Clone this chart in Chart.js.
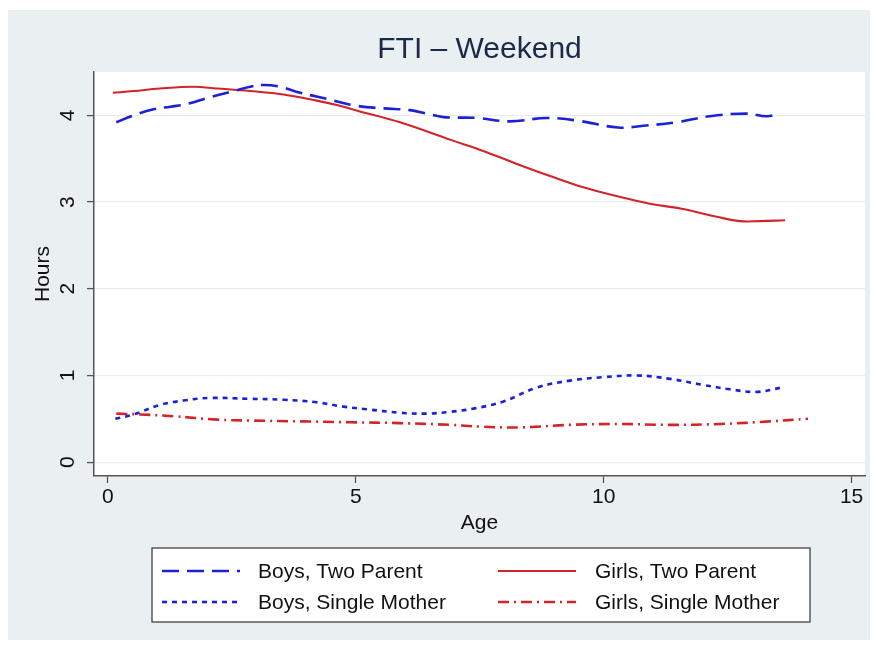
<!DOCTYPE html>
<html>
<head>
<meta charset="utf-8">
<script src="https://cdn.jsdelivr.net/npm/chart.js@4"></script>
<style>
  html, body { margin: 0; padding: 0; background: #ffffff; }
  #wrap { width: 878px; height: 646px; }
</style>
</head>
<body>
<div id="wrap"><canvas id="c" width="878" height="646"></canvas></div>
<script>
// ---- Data ----
const titleText = "FTI \u2013 Weekend";
const xTitle = "Age";
const yTitle = "Hours";
const xTickValues = [0, 5, 10, 15];
const yTickValues = [0, 1, 2, 3, 4];

const seriesLabels = ["Boys, Two Parent", "Girls, Two Parent", "Boys, Single Mother", "Girls, Single Mother"];

const boysTwoAge   = [0.17,0.52,0.92,1.26,1.59,2.06,2.53,2.87,3.14,3.47,3.88,4.42,5.02,5.56,6.09,6.43,6.77,7.44,8.11,8.85,9.46,10.29,10.80,11.47,12.14,12.88,13.29,13.55];
const boysTwoHours = [3.92,4.00,4.07,4.10,4.13,4.21,4.28,4.33,4.35,4.33,4.26,4.19,4.11,4.08,4.06,4.02,3.98,3.97,3.93,3.97,3.94,3.86,3.88,3.92,3.99,4.02,3.99,4.02];

const girlsTwoAge   = [0.10,0.52,1.05,1.73,2.20,2.87,3.54,4.21,4.68,5.05,5.89,6.90,7.57,8.25,8.92,9.59,10.26,10.93,11.60,12.28,12.75,13.15,13.66];
const girlsTwoHours = [4.26,4.28,4.31,4.33,4.31,4.28,4.24,4.17,4.11,4.05,3.92,3.72,3.59,3.44,3.30,3.17,3.07,2.98,2.92,2.83,2.78,2.78,2.79];

const boysSingleAge   = [0.15,0.52,1.05,1.52,2.06,2.87,3.54,4.21,4.75,5.22,5.89,6.43,6.90,7.40,7.98,8.65,9.32,9.99,10.67,11.34,12.01,12.55,13.08,13.59];
const boysSingleHours = [0.50,0.55,0.66,0.71,0.74,0.73,0.72,0.69,0.64,0.61,0.57,0.56,0.58,0.62,0.70,0.86,0.94,0.98,1.00,0.96,0.89,0.84,0.81,0.86];

const girlsSingleAge   = [0.17,0.65,1.32,2.20,2.87,3.88,4.89,5.89,6.90,7.51,8.31,9.32,10.30,11.34,12.35,13.35,14.12];
const girlsSingleHours = [0.56,0.55,0.53,0.49,0.48,0.47,0.46,0.45,0.43,0.41,0.40,0.43,0.44,0.43,0.44,0.47,0.50];

// ---- Styles ----
const BLUE = "#1c20d6";
const RED = "#d3242a";
const FONT = "'Liberation Sans', Arial, Helvetica, sans-serif";

function pts(xs, ys) { return xs.map((x, i) => ({ x: x, y: ys[i] })); }

const datasets = [
  { label: seriesLabels[0], data: pts(boysTwoAge, boysTwoHours), borderColor: BLUE, borderWidth: 2.6, borderDash: [17, 8] },
  { label: seriesLabels[1], data: pts(girlsTwoAge, girlsTwoHours), borderColor: RED, borderWidth: 2.1, borderDash: [] },
  { label: seriesLabels[2], data: pts(boysSingleAge, boysSingleHours), borderColor: BLUE, borderWidth: 2.6, borderDash: [5, 5] },
  { label: seriesLabels[3], data: pts(girlsSingleAge, girlsSingleHours), borderColor: RED, borderWidth: 2.6, borderDash: [11, 5, 2, 5] }
].map(d => Object.assign(d, { fill: false, pointRadius: 0, pointHoverRadius: 0, tension: 0.4, backgroundColor: d.borderColor }));

const backgroundPlugin = {
  id: 'stataBg',
  beforeDraw(chart) {
    const { ctx, chartArea } = chart;
    ctx.save();
    ctx.fillStyle = '#ffffff';
    ctx.fillRect(0, 0, chart.width, chart.height);
    ctx.fillStyle = '#eaf0f2';
    ctx.fillRect(8, 10, 862, 630);
    ctx.fillStyle = '#ffffff';
    ctx.fillRect(chartArea.left, chartArea.top, chartArea.right - chartArea.left, chartArea.bottom - chartArea.top);
    ctx.restore();
  }
};

const legendPlugin = {
  id: 'stataLegend',
  afterDraw(chart) {
    const { ctx } = chart;
    const box = { x: 152, y: 548, w: 658, h: 74 };
    ctx.save();
    ctx.fillStyle = '#ffffff';
    ctx.fillRect(box.x, box.y, box.w, box.h);
    ctx.strokeStyle = '#333333';
    ctx.lineWidth = 1.2;
    ctx.strokeRect(box.x, box.y, box.w, box.h);
    const colSample = [162, 498];
    const sampleLen = 78;
    const colText = [258, 595];
    const rowY = [571, 602];
    chart.data.datasets.forEach((ds, i) => {
      const col = i % 2, row = Math.floor(i / 2);
      const y = rowY[row];
      ctx.beginPath();
      ctx.setLineDash(ds.borderDash || []);
      ctx.lineDashOffset = 0;
      ctx.strokeStyle = ds.borderColor;
      ctx.lineWidth = ds.borderWidth;
      ctx.moveTo(colSample[col], y);
      ctx.lineTo(colSample[col] + sampleLen, y);
      ctx.stroke();
      ctx.setLineDash([]);
      ctx.fillStyle = '#111111';
      ctx.font = "21px " + FONT;
      ctx.textBaseline = 'middle';
      ctx.textAlign = 'left';
      ctx.fillText(ds.label, colText[col], y + 1);
    });
    ctx.restore();
  }
};

new Chart(document.getElementById('c'), {
  type: 'line',
  data: { datasets: datasets },
  plugins: [backgroundPlugin, legendPlugin],
  options: {
    responsive: false,
    animation: false,
    devicePixelRatio: 1,
    layout: { padding: { left: 0, right: 13, top: 10, bottom: 110 } },
    plugins: {
      legend: { display: false },
      tooltip: { enabled: false },
      title: {
        display: true,
        fullSize: false,
        text: titleText,
        color: '#1c2a4a',
        font: { family: FONT, size: 30, weight: 'normal', lineHeight: 1.2 },
        padding: { top: 22, bottom: 4 }
      }
    },
    scales: {
      x: {
        type: 'linear',
        min: -0.28,
        max: 15.27,
        afterBuildTicks(scale) { scale.ticks = xTickValues.map(v => ({ value: v })); },
        afterFit(scale) { scale.height = 60; },
        grid: { display: true, drawOnChartArea: false, drawTicks: true, tickLength: 7, tickColor: '#555555', tickWidth: 1.3 },
        border: { display: true, color: '#555555', width: 1.5 },
        ticks: { color: '#111111', font: { family: FONT, size: 21 }, padding: 2, maxRotation: 0, autoSkip: false },
        title: { display: true, text: xTitle, color: '#111111', font: { family: FONT, size: 21 }, padding: { top: 0, bottom: 0 } }
      },
      y: {
        type: 'linear',
        min: -0.16,
        max: 4.5,
        afterBuildTicks(scale) { scale.ticks = yTickValues.map(v => ({ value: v })); },
        afterFit(scale) { scale.width = 94; },
        grid: { display: true, drawOnChartArea: true, color: '#e9edef', lineWidth: 1.2, drawTicks: true, tickLength: 7, tickColor: '#555555', tickWidth: 1.3 },
        border: { display: true, color: '#555555', width: 1.5 },
        ticks: { color: '#111111', font: { family: FONT, size: 21 }, padding: 13, minRotation: 90, maxRotation: 90, crossAlign: 'center', autoSkip: false },
        title: { display: true, text: yTitle, color: '#111111', font: { family: FONT, size: 21 }, padding: { top: 31, bottom: 0 } }
      }
    }
  }
});
</script>
</body>
</html>
